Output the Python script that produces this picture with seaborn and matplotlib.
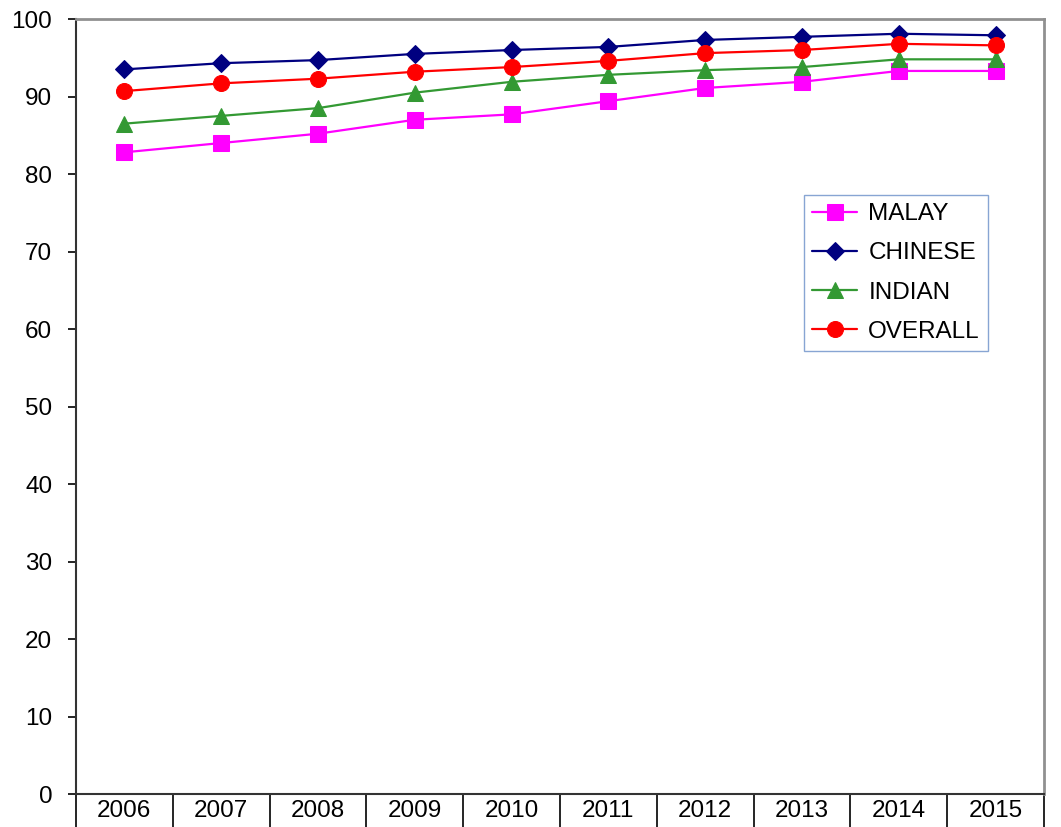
import numpy as np
import pandas as pd
import matplotlib
matplotlib.use("Agg")
import matplotlib.pyplot as plt
import seaborn as sns
from matplotlib.ticker import MultipleLocator, FixedLocator

years = [2006, 2007, 2008, 2009, 2010, 2011, 2012, 2013, 2014, 2015]
malay = [82.8, 84.0, 85.2, 87.0, 87.7, 89.4, 91.1, 91.9, 93.3, 93.3]
chinese = [93.5, 94.3, 94.7, 95.5, 96.0, 96.4, 97.3, 97.7, 98.1, 97.9]
indian = [86.5, 87.5, 88.5, 90.5, 91.9, 92.8, 93.4, 93.8, 94.8, 94.8]
overall = [90.7, 91.7, 92.3, 93.2, 93.8, 94.6, 95.6, 96.0, 96.8, 96.6]

series = {"MALAY": malay, "CHINESE": chinese, "INDIAN": indian, "OVERALL": overall}
styles = {
    "MALAY": dict(color="#FF00FF", marker="s", markersize=11.5),
    "CHINESE": dict(color="#000080", marker="D", markersize=9.5),
    "INDIAN": dict(color="#339933", marker="^", markersize=11.5),
    "OVERALL": dict(color="#FF0000", marker="o", markersize=11.5),
}

sns.set_style("white")
plt.rcParams["font.family"] = ["Liberation Sans", "DejaVu Sans"]
plt.rcParams["text.color"] = "black"
plt.rcParams["xtick.color"] = "black"
plt.rcParams["ytick.color"] = "black"

fig = plt.figure(figsize=(10.61, 8.27), dpi=100)
ax = fig.add_axes([0.0716, 0.0399, 0.9124, 0.9371])

for name, vals in series.items():
    df = pd.DataFrame({"year": years, "value": vals})
    st = styles[name]
    sns.lineplot(data=df, x="year", y="value", ax=ax, label=name,
                 color=st["color"], marker=st["marker"], markersize=st["markersize"],
                 markeredgecolor=st["color"], linewidth=1.6)

ax.set_xlim(2005.5, 2015.5)
ax.set_ylim(0, 100)
ax.set_xlabel("")
ax.set_ylabel("")

ax.yaxis.set_major_locator(MultipleLocator(10))
ax.tick_params(axis="y", which="major", direction="out", length=6, width=1.2,
               labelsize=17.5, pad=11, left=True)

ax.xaxis.set_major_locator(FixedLocator(years))
ax.xaxis.set_minor_locator(FixedLocator([y + 0.5 for y in [2005] + years]))
ax.tick_params(axis="x", which="major", length=0, labelsize=17.5, pad=4)
ax.tick_params(axis="x", which="minor", direction="out", length=26, width=1.2,
               bottom=True)

for side in ["left", "bottom"]:
    ax.spines[side].set_color("#333333")
    ax.spines[side].set_linewidth(1.5)
for side in ["top", "right"]:
    ax.spines[side].set_color("#909090")
    ax.spines[side].set_linewidth(2)

leg = ax.legend(loc="upper left", bbox_to_anchor=(0.752, 0.773), borderaxespad=0,
                fontsize=17.5, frameon=True, fancybox=False, handlelength=1.85,
                labelspacing=0.70, borderpad=0.35, handletextpad=0.45)
leg.get_frame().set_edgecolor("#6A8FC8")
leg.get_frame().set_linewidth(1.0)

fig.savefig("out.png", dpi=100)
